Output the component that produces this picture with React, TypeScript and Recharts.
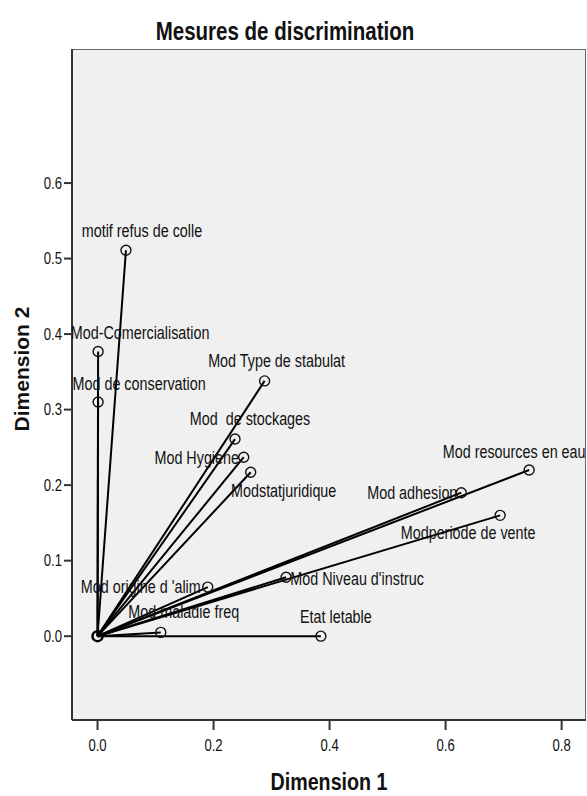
import {
  ScatterChart,
  Scatter,
  XAxis,
  YAxis,
  ReferenceLine,
  ReferenceArea,
  ReferenceDot,
} from "recharts"

// mesures de discrimination (dimension 1 / dimension 2)
const variables = [
  "motif refus de colle",
  "Mod-Comercialisation",
  "Mod de conservation",
  "Mod Type de stabulat",
  "Mod  de stockages",
  "Mod Hygiene",
  "Modstatjuridique",
  "Mod resources en eau",
  "Mod adhesion",
  "Modperiode de vente",
  "Mod Niveau d'instruc",
  "Mod origine d 'alim",
  "Mod maladie freq",
  "Etat letable",
]
const dim1 = [0.049, 0.001, 0.001, 0.288, 0.237, 0.252, 0.264, 0.744, 0.627, 0.694, 0.325, 0.19, 0.109, 0.385]
const dim2 = [0.511, 0.377, 0.31, 0.338, 0.261, 0.237, 0.217, 0.22, 0.19, 0.16, 0.078, 0.065, 0.005, 0.0]

const xTicks = [0, 0.2, 0.4, 0.6, 0.8]
const yTicks = [0, 0.1, 0.2, 0.3, 0.4, 0.5, 0.6]

const points = variables.map((name, i) => ({ name, x: dim1[i], y: dim2[i] }))

// where each label sits relative to its point (px)
const labelOffset: Record<string, [number, number]> = {
  "motif refus de colle": [16, -19],
  "Mod-Comercialisation": [42, -18],
  "Mod de conservation": [41, -18],
  "Mod Type de stabulat": [12, -20],
  "Mod  de stockages": [15, -20],
  "Mod Hygiene": [-47, 1],
  "Modstatjuridique": [33, 19],
  "Mod resources en eau": [-15, -18],
  "Mod adhesion": [-49, 0],
  "Modperiode de vente": [-32, 18],
  "Mod Niveau d'instruc": [71, 2],
  "Mod origine d 'alim": [-67, 0],
  "Mod maladie freq": [23, -20],
  "Etat letable": [15, -19],
}

const FONT = "'Liberation Sans', Arial, sans-serif"
const SQUEEZE = 0.82 // the narrow look of the original text

// text squeezed horizontally around its anchor point
const Txt = ({ x, y, anchor = "middle", size, bold, children }: any) => (
  <text
    transform={`translate(${x},${y}) scale(${SQUEEZE},1)`}
    textAnchor={anchor}
    dominantBaseline="central"
    fontFamily={FONT}
    fontWeight={bold ? "bold" : "normal"}
    fontSize={size}
    fill="#111"
    style={{ whiteSpace: "pre" }}
  >
    {children}
  </text>
)

const PointShape = (props: any) => {
  const { cx, cy, payload } = props
  const [dx, dy] = labelOffset[payload.name] || [0, -18]
  return (
    <g>
      <circle cx={cx} cy={cy} r={5} fill="none" stroke="#111" strokeWidth={1.4} />
      <Txt x={cx + dx} y={cy + dy} size={17.5}>
        {payload.name}
      </Txt>
    </g>
  )
}

const XTick = (props: any) => (
  <Txt x={props.x} y={props.y + 8} size={16}>
    {props.payload.value.toFixed(1)}
  </Txt>
)

const YTick = (props: any) => (
  <Txt x={props.x} y={props.y} anchor="end" size={16}>
    {props.payload.value.toFixed(1)}
  </Txt>
)

const X0 = -0.044
const X1 = 0.842
const Y0 = -0.111
const Y1 = 0.7775

export default function App() {
  return (
    <div style={{ position: "absolute", left: 0, top: 0, width: 587, height: 796, background: "#fff" }}>
      <ScatterChart width={587} height={796} margin={{ top: 49, right: 1, left: 0, bottom: 0 }}>
        <ReferenceArea x1={X0} x2={X1} y1={Y0} y2={Y1} fill="#f0f0f0" fillOpacity={1} stroke="#666" strokeWidth={2} ifOverflow="hidden" />
        <XAxis
          type="number"
          dataKey="x"
          domain={[X0, X1]}
          ticks={xTicks}
          allowDataOverflow
          height={76}
          stroke="#333"
          strokeWidth={2}
          tickSize={10}
          tickMargin={8}
          tick={<XTick />}
        />
        <YAxis
          type="number"
          dataKey="y"
          domain={[Y0, Y1]}
          ticks={yTicks}
          allowDataOverflow
          width={72}
          stroke="#333"
          strokeWidth={2}
          tickSize={8}
          tickMargin={2}
          tick={<YTick />}
        />
        {points.map((p) => (
          <ReferenceLine
            key={p.name}
            segment={[
              { x: 0, y: 0 },
              { x: p.x, y: p.y },
            ]}
            stroke="#000"
            strokeWidth={2}
          />
        ))}
        <ReferenceDot x={0} y={0} r={5} fill="none" stroke="#000" strokeWidth={2.5} />
        <Scatter data={points} shape={PointShape} isAnimationActive={false} />
      </ScatterChart>
      <svg width={587} height={796} style={{ position: "absolute", left: 0, top: 0, pointerEvents: "none" }}>
        <Txt x={285} y={31} size={25} bold>
          Mesures de discrimination
        </Txt>
        <Txt x={329} y={782} size={24} bold>
          Dimension 1
        </Txt>
        <text
          transform="translate(21,369) rotate(-90)"
          textAnchor="middle"
          dominantBaseline="central"
          fontFamily={FONT}
          fontWeight="bold"
          fontSize={21}
          fill="#111"
        >
          Dimension 2
        </text>
      </svg>
    </div>
  )
}
